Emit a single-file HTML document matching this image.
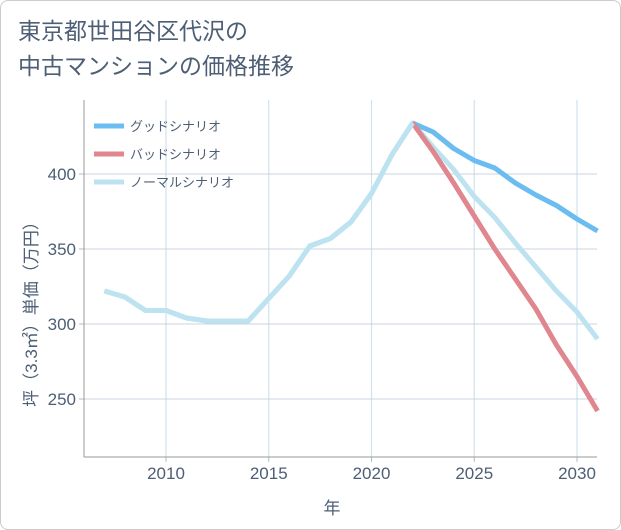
<!DOCTYPE html>
<html><head><meta charset="utf-8"><style>
body{margin:0;background:#fff;font-family:"Liberation Sans","Noto Sans CJK JP",sans-serif;}
#wrap{position:relative;width:619px;height:528px;border:1px solid #ccc;border-radius:8px;overflow:hidden;background:#fff}
.title{position:absolute;left:17px;top:13px;font-size:23px;line-height:35px;color:#4d5e75;}
</style></head><body>
<div id="wrap">
<div class="title">東京都世田谷区代沢の<br>中古マンションの価格推移</div>
<svg id="c" width="621" height="530" style="position:absolute;left:-1px;top:-1px"></svg>
</div>
<script>
const years=[2007,2008,2009,2010,2011,2012,2013,2014,2015,2016,2017,2018,2019,2020,2021,2022,2023,2024,2025,2026,2027,2028,2029,2030,2031];
const normal=[322,318,309,309,304,302,302,302,317,332,352,357,368,387,413,434,418,403,385,371,354,338,322,308,290];
const goodYears=[2022,2023,2024,2025,2026,2027,2028,2029,2030,2031];
const good=[434,428,417,409,404,394,386,379,370,362];
const bad=[434,415,394,372,350,330,310,286,265,242];
const xTicks=[2010,2015,2020,2025,2030];
const yTicks=[250,300,350,400];
const legendNames=["グッドシナリオ","バッドシナリオ","ノーマルシナリオ"];
const legendColors=["#6bbcf0","#e0868e","#bde2f0"];
const NS="http://www.w3.org/2000/svg";
const svg=document.getElementById('c');
const L=84,R=597,T=100,B=457;
const TC='#4d5e75';
const x=v=>166+(v-2010)*(577-166)/20;
const y=v=>174+(400-v)*1.5;
function mk(t,a){const e=document.createElementNS(NS,t);for(const k in a)e.setAttribute(k,a[k]);svg.appendChild(e);return e;}
for(const t of xTicks){
 const g=mk('line',{x1:x(t),x2:x(t),y1:T,y2:B,stroke:'#cfe3ee','stroke-width':1.2});
 
 
 const tk=mk('line',{x1:x(t),x2:x(t),y1:B,y2:B+5,stroke:'#bbb','stroke-width':1});
 
 
 const tx=mk('text',{x:x(t),y:479,'text-anchor':'middle','font-size':17,fill:TC});tx.textContent=t;
 
 
}
for(const t of yTicks){
 const g=mk('line',{x1:L,x2:R,y1:y(t),y2:y(t),stroke:'#c8d4e0','stroke-width':1});
 
 
 const tk=mk('line',{x1:L-5,x2:L,y1:y(t),y2:y(t),stroke:'#bbb','stroke-width':1});
 
 
 const tx=mk('text',{x:76,y:y(t)+6,'text-anchor':'end','font-size':17,fill:TC});tx.textContent=t;
 
 
}
const ax=mk('line',{x1:L,x2:L,y1:T,y2:B,stroke:'#999','stroke-width':1});


const bx=mk('line',{x1:L,x2:R,y1:B,y2:B,stroke:'#999','stroke-width':1});


function line(xs,vs,c,name){
 const p=mk('polyline',{points:xs.map((v,i)=>x(v)+','+y(vs[i])).join(' '),fill:'none',stroke:c,'stroke-width':5,'stroke-linejoin':'round'});
 
 
}
line(years,normal,legendColors[2],'normal-scenario-line');
line(goodYears,good,legendColors[0],'good-scenario-line');
line(goodYears,bad,legendColors[1],'bad-scenario-line');
line(years.slice(0,16),normal.slice(0,16),legendColors[2],'normal-history-line');
legendNames.forEach((n,i)=>{
 const yy=126+i*28;
 const l=mk('line',{x1:94,x2:124,y1:yy,y2:yy,stroke:legendColors[i],'stroke-width':5});
 
 
 const t=mk('text',{x:130,y:yy+5,'font-size':13,fill:TC});t.textContent=n;
 
 
});
const xt=mk('text',{x:332,y:514,'text-anchor':'middle','font-size':17,fill:TC});xt.textContent='年';


const yt=mk('text',{x:0,y:0,'text-anchor':'middle','font-size':17,fill:TC,transform:'translate(37,310) rotate(-90)'});yt.textContent='坪（3.3㎡）単価（万円）';


</script>
</body></html>
